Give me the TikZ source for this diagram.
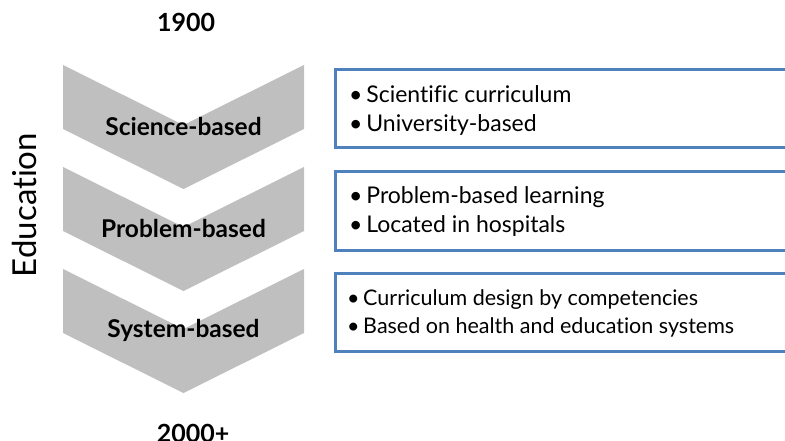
\documentclass[tikz,border=0pt]{standalone}
\usepackage{fontspec}
\setmainfont[Ligatures=NoCommon]{Lato}
\definecolor{chevgray}{HTML}{BFBFBF}
\definecolor{boxblue}{HTML}{4F81BD}
\tikzset{
  chevron/.style={fill=chevgray,draw=none},
  chevlabel/.style={font=\fontsize{24.5}{28}\selectfont\bfseries},
  infobox/.style={draw=boxblue,line width=3pt,fill=white},
  infotext/.style={anchor=west,align=left,inner sep=0pt},
  yearlabel/.style={font=\fontsize{25}{28}\selectfont\bfseries}
}
\begin{document}
\begin{tikzpicture}[x=1pt,y=-1pt]
 % page frame in pixels
 \clip (0,0) rectangle (785,441);
 \useasboundingbox (0,0) rectangle (785,441);

 % years
 \node[yearlabel] (start) at (186,22) {1900};
 \node[yearlabel] (stop) at (193,433) {2000+};

 % axis title
 \node[rotate=90,font=\fontsize{33}{36}\selectfont] (edu) at (24,205) {Education};

 % chevrons with their labels
 \foreach \n/\t/\txt in {1/65/Science-based,2/167/Problem-based,3/269/System-based} {
   \fill[chevron] (63,\t) -- (183.5,\t+60) -- (304,\t) -- (304,\t+64)
         -- (183.5,\t+124) -- (63,\t+64) -- cycle;
   \node[chevlabel] (chev\n) at (183.5,\t+61) {\txt};
 }

 % boxes on the right, open past the page edge
 \foreach \n/\top in {1/70,2/172,3/273}
   \draw[infobox] (335,\top) rectangle (820,\top+78);

 \node[infotext,font=\fontsize{23}{29}\selectfont] (info1) at (349,111)
   {\textbullet\,Scientific curriculum\\ \textbullet\,University-based};
 \node[infotext,font=\fontsize{23}{29}\selectfont] (info2) at (349,212)
   {\textbullet\,Problem-based learning\\ \textbullet\,Located in hospitals};
 \node[infotext,font=\fontsize{21.5}{28}\selectfont] (info3) at (347,313)
   {\textbullet\,Curriculum design by competencies\\ \textbullet\,Based on health and education systems};
\end{tikzpicture}
\end{document}
